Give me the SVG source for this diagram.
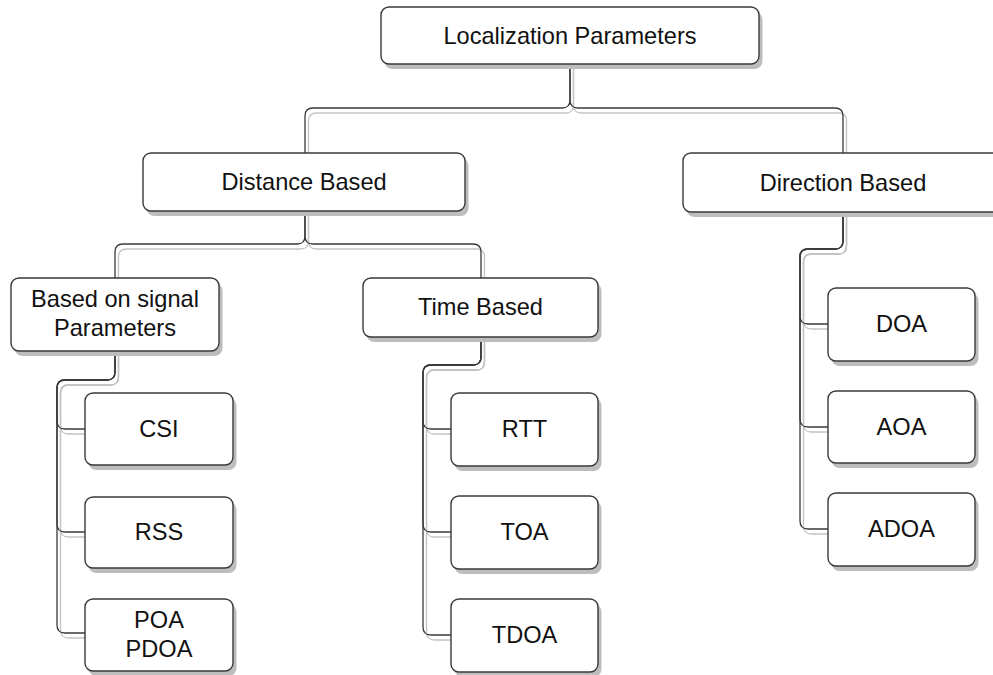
<svg xmlns="http://www.w3.org/2000/svg" width="993" height="675" viewBox="0 0 993 675">
<style>
.box{fill:#ffffff;stroke:#3a3a3a;stroke-width:1.4}
.sh{fill:#bdbdbd;stroke:none}
.ln{fill:none;stroke:#3a3a3a;stroke-width:1.3}
.lsh{fill:none;stroke:#c4c4c4;stroke-width:1.3}
text{font-family:"Liberation Sans",Arial,Helvetica,sans-serif;font-size:23.6px;fill:#111;text-anchor:middle}
</style>
<defs>
<g id="edges">
<path d="M570,64 V100 Q570,108 562,108 H313 Q305,108 305,116 V153"/>
<path d="M570,64 V100 Q570,108 578,108 H835 Q843,108 843,116 V153"/>
<path d="M305,211 V236 Q305,244 297,244 H123 Q115,244 115,252 V278"/>
<path d="M305,211 V236 Q305,244 313,244 H473 Q481,244 481,252 V278"/>
<path d="M115,351 V372 Q115,380 107,380 H65 Q57,380 57,388 V421 Q57,429 65,429 H85"/>
<path d="M115,351 V372 Q115,380 107,380 H65 Q57,380 57,388 V524 Q57,532 65,532 H85"/>
<path d="M115,351 V372 Q115,380 107,380 H65 Q57,380 57,388 V625 Q57,633 65,633 H85"/>
<path d="M481,337 V357 Q481,365 473,365 H431 Q423,365 423,373 V421 Q423,429 431,429 H451"/>
<path d="M481,337 V357 Q481,365 473,365 H431 Q423,365 423,373 V524 Q423,532 431,532 H451"/>
<path d="M481,337 V357 Q481,365 473,365 H431 Q423,365 423,373 V627 Q423,635 431,635 H451"/>
<path d="M843,212 V241 Q843,249 835,249 H808 Q800,249 800,257 V316 Q800,324 808,324 H828"/>
<path d="M843,212 V241 Q843,249 835,249 H808 Q800,249 800,257 V419 Q800,427 808,427 H828"/>
<path d="M843,212 V241 Q843,249 835,249 H808 Q800,249 800,257 V521 Q800,529 808,529 H828"/>
</g>
</defs>
<g id="connectors">
<use href="#edges" class="lsh" transform="translate(3.5,5)"/>
<use href="#edges" class="ln"/>
</g>
<g id="n-root"><rect class="sh" x="384.5" y="12" width="378" height="57" rx="8"/><rect class="box" x="381" y="7" width="378" height="57" rx="8"/><text x="570" y="44">Localization Parameters</text></g>
<g id="n-distance"><rect class="sh" x="146.5" y="158" width="322" height="58" rx="8"/><rect class="box" x="143" y="153" width="322" height="58" rx="8"/><text x="304" y="190">Distance Based</text></g>
<g id="n-direction"><rect class="sh" x="686.5" y="158" width="320" height="59" rx="8"/><rect class="box" x="683" y="153" width="320" height="59" rx="8"/><text x="843" y="191">Direction Based</text></g>
<g id="n-signal"><rect class="sh" x="14.5" y="283" width="208" height="73" rx="8"/><rect class="box" x="11" y="278" width="208" height="73" rx="8"/><text x="115" y="307">Based on signal</text><text x="115" y="336">Parameters</text></g>
<g id="n-time"><rect class="sh" x="366.5" y="283" width="235" height="59" rx="8"/><rect class="box" x="363" y="278" width="235" height="59" rx="8"/><text x="480.5" y="315">Time Based</text></g>
<g id="n-csi"><rect class="sh" x="88.5" y="398" width="148" height="72" rx="8"/><rect class="box" x="85" y="393" width="148" height="72" rx="8"/><text x="159" y="437">CSI</text></g>
<g id="n-rss"><rect class="sh" x="88.5" y="502" width="148" height="71" rx="8"/><rect class="box" x="85" y="497" width="148" height="71" rx="8"/><text x="159" y="540">RSS</text></g>
<g id="n-poa"><rect class="sh" x="88.5" y="604" width="148" height="72" rx="8"/><rect class="box" x="85" y="599" width="148" height="72" rx="8"/><text x="159" y="628">POA</text><text x="159" y="657">PDOA</text></g>
<g id="n-rtt"><rect class="sh" x="454.5" y="398" width="147" height="73" rx="8"/><rect class="box" x="451" y="393" width="147" height="73" rx="8"/><text x="524.5" y="437">RTT</text></g>
<g id="n-toa"><rect class="sh" x="454.5" y="501" width="147" height="73" rx="8"/><rect class="box" x="451" y="496" width="147" height="73" rx="8"/><text x="524.5" y="540">TOA</text></g>
<g id="n-tdoa"><rect class="sh" x="454.5" y="604" width="147" height="73" rx="8"/><rect class="box" x="451" y="599" width="147" height="73" rx="8"/><text x="524.5" y="643">TDOA</text></g>
<g id="n-doa"><rect class="sh" x="831.5" y="293" width="147" height="73" rx="8"/><rect class="box" x="828" y="288" width="147" height="73" rx="8"/><text x="901.5" y="332">DOA</text></g>
<g id="n-aoa"><rect class="sh" x="831.5" y="396" width="147" height="72" rx="8"/><rect class="box" x="828" y="391" width="147" height="72" rx="8"/><text x="901.5" y="435">AOA</text></g>
<g id="n-adoa"><rect class="sh" x="831.5" y="498" width="147" height="73" rx="8"/><rect class="box" x="828" y="493" width="147" height="73" rx="8"/><text x="901.5" y="537">ADOA</text></g>
</svg>
